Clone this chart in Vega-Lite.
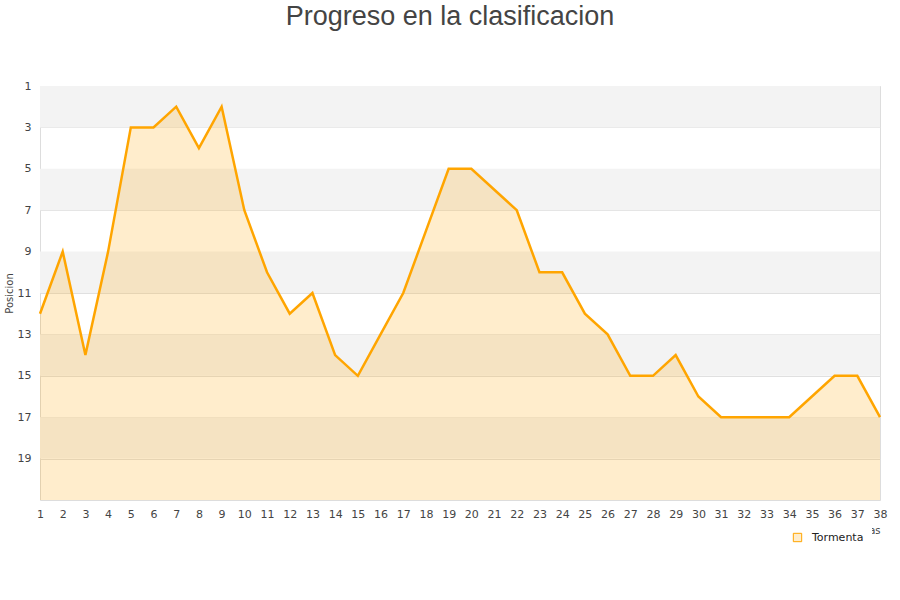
{
  "$schema": "https://vega.github.io/schema/vega-lite/v6.json",
  "autosize": {"type": "none"},
  "width": 840,
  "height": 414,
  "padding": {"left": 40, "top": 86, "right": 20, "bottom": 100},
  "title": {
    "text": "Progreso en la clasificacion",
    "font": "Liberation Sans",
    "fontSize": 27,
    "fontWeight": "normal",
    "color": "#444444",
    "anchor": "middle",
    "dx": -10,
    "offset": 49
  },
  "config": {
    "view": {"stroke": "#dddddd"},
    "axis": {"labelFont": "DejaVu Sans", "labelColor": "#444444", "titleFont": "DejaVu Sans", "titleColor": "#444444", "titleFontWeight": "normal"}
  },
  "datasets": {
    "bands": [
      {"desde": 1, "hasta": 3},
      {"desde": 5, "hasta": 7},
      {"desde": 9, "hasta": 11},
      {"desde": 13, "hasta": 15},
      {"desde": 17, "hasta": 19}
    ],
    "posiciones": [
      {"jornada": 1, "posicion": 12, "equipo": "Tormenta"},
      {"jornada": 2, "posicion": 9, "equipo": "Tormenta"},
      {"jornada": 3, "posicion": 14, "equipo": "Tormenta"},
      {"jornada": 4, "posicion": 9, "equipo": "Tormenta"},
      {"jornada": 5, "posicion": 3, "equipo": "Tormenta"},
      {"jornada": 6, "posicion": 3, "equipo": "Tormenta"},
      {"jornada": 7, "posicion": 2, "equipo": "Tormenta"},
      {"jornada": 8, "posicion": 4, "equipo": "Tormenta"},
      {"jornada": 9, "posicion": 2, "equipo": "Tormenta"},
      {"jornada": 10, "posicion": 7, "equipo": "Tormenta"},
      {"jornada": 11, "posicion": 10, "equipo": "Tormenta"},
      {"jornada": 12, "posicion": 12, "equipo": "Tormenta"},
      {"jornada": 13, "posicion": 11, "equipo": "Tormenta"},
      {"jornada": 14, "posicion": 14, "equipo": "Tormenta"},
      {"jornada": 15, "posicion": 15, "equipo": "Tormenta"},
      {"jornada": 16, "posicion": 13, "equipo": "Tormenta"},
      {"jornada": 17, "posicion": 11, "equipo": "Tormenta"},
      {"jornada": 18, "posicion": 8, "equipo": "Tormenta"},
      {"jornada": 19, "posicion": 5, "equipo": "Tormenta"},
      {"jornada": 20, "posicion": 5, "equipo": "Tormenta"},
      {"jornada": 21, "posicion": 6, "equipo": "Tormenta"},
      {"jornada": 22, "posicion": 7, "equipo": "Tormenta"},
      {"jornada": 23, "posicion": 10, "equipo": "Tormenta"},
      {"jornada": 24, "posicion": 10, "equipo": "Tormenta"},
      {"jornada": 25, "posicion": 12, "equipo": "Tormenta"},
      {"jornada": 26, "posicion": 13, "equipo": "Tormenta"},
      {"jornada": 27, "posicion": 15, "equipo": "Tormenta"},
      {"jornada": 28, "posicion": 15, "equipo": "Tormenta"},
      {"jornada": 29, "posicion": 14, "equipo": "Tormenta"},
      {"jornada": 30, "posicion": 16, "equipo": "Tormenta"},
      {"jornada": 31, "posicion": 17, "equipo": "Tormenta"},
      {"jornada": 32, "posicion": 17, "equipo": "Tormenta"},
      {"jornada": 33, "posicion": 17, "equipo": "Tormenta"},
      {"jornada": 34, "posicion": 17, "equipo": "Tormenta"},
      {"jornada": 35, "posicion": 16, "equipo": "Tormenta"},
      {"jornada": 36, "posicion": 15, "equipo": "Tormenta"},
      {"jornada": 37, "posicion": 15, "equipo": "Tormenta"},
      {"jornada": 38, "posicion": 17, "equipo": "Tormenta"}
    ]
  },
  "layer": [
    {
      "data": {"name": "bands"},
      "mark": {"type": "rect", "color": "#f3f3f3"},
      "encoding": {
        "y": {"field": "desde", "type": "quantitative", "scale": {"domain": [1, 21], "reverse": true, "nice": false, "zero": false}},
        "y2": {"field": "hasta"}
      }
    },
    {
      "data": {"name": "posiciones"},
      "mark": {"type": "area", "color": "#ffa500", "opacity": 0.2},
      "encoding": {
        "x": {
          "field": "jornada",
          "type": "ordinal",
          "scale": {"type": "point", "padding": 0},
          "axis": {
            "labelAngle": 0, "grid": false, "ticks": false, "domain": false,
            "labelFontSize": 11, "labelPadding": 8, "labelOverlap": false,
            "title": "Jornadas", "titleFontSize": 10, "titleAnchor": "end", "titlePadding": 6
          }
        },
        "y": {"field": "posicion", "type": "quantitative"},
        "y2": {"datum": 21}
      }
    },
    {
      "data": {"name": "posiciones"},
      "mark": {"type": "line", "strokeWidth": 2.5},
      "encoding": {
        "x": {"field": "jornada", "type": "ordinal"},
        "y": {
          "field": "posicion",
          "type": "quantitative",
          "axis": {
            "values": [1, 3, 5, 7, 9, 11, 13, 15, 17, 19],
            "grid": true, "gridColor": "#e0e0e0", "ticks": false, "domain": false,
            "labelFontSize": 11, "labelPadding": 9, "labelOverlap": false,
            "title": "Posicion", "titleFontSize": 10, "titlePadding": 3
          }
        },
        "color": {
          "field": "equipo",
          "type": "nominal",
          "scale": {"range": ["#ffa500"]},
          "legend": {
            "title": null,
            "orient": "none",
            "legendX": 744,
            "legendY": 438,
            "fillColor": "white",
            "padding": 8,
            "symbolType": "square",
            "symbolSize": 70,
            "symbolFillColor": "#ffedcc",
            "symbolStrokeWidth": 1,
            "labelOffset": 9,
            "labelFont": "DejaVu Sans",
            "labelFontSize": 11,
            "labelColor": "#222222"
          }
        }
      }
    }
  ]
}
